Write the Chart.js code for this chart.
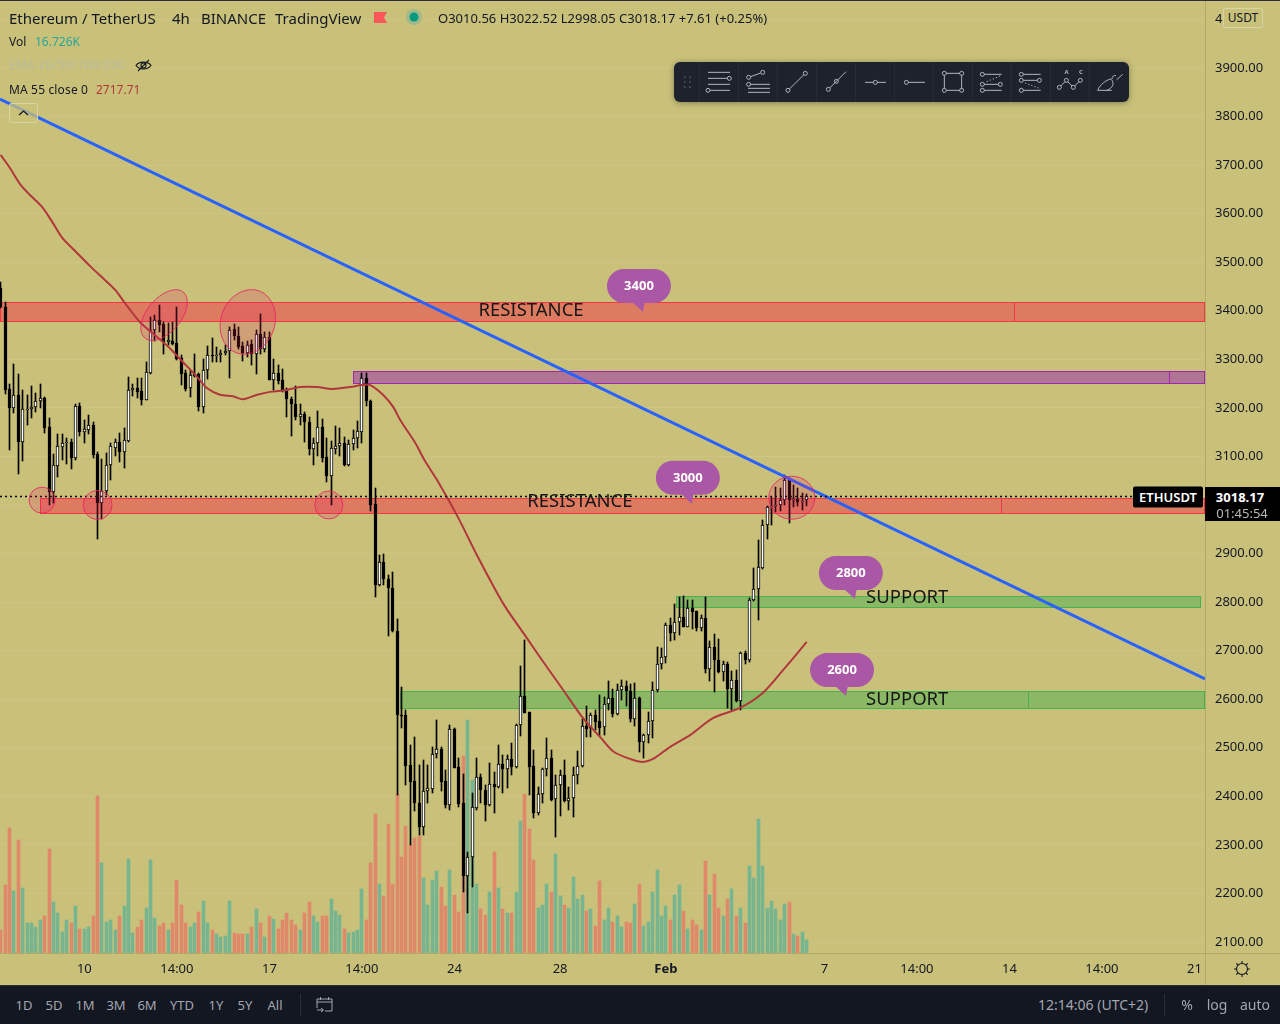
<!DOCTYPE html>
<html>
<head>
<meta charset="utf-8">
<title>ETHUSDT 4h</title>
<script src="https://cdn.jsdelivr.net/npm/chart.js@4/dist/chart.umd.min.js"></script>
<style>
html, body { margin: 0; padding: 0; background: #c9c17a; width: 1280px; height: 1024px; overflow: hidden; }
body { position: relative; font-family: "Noto Sans", sans-serif; color: #131722; }
canvas { position: absolute; left: 0; top: 0; }
.t { position: absolute; white-space: nowrap; line-height: 1; transform: translateY(-50%); }
.c { transform: translate(-50%, -50%); }
#footer { position: absolute; left: 0; top: 985px; width: 1280px; height: 39px; background: #131722; border-top: 1px solid #2a2e39; box-sizing: border-box; }
#footer .t { color: #a3a6af; font-size: 13px; top: 19px; }
</style>
</head>
<body>
<canvas id="chart" width="1280" height="985"></canvas>

<div style="position:absolute;left:0;top:0;width:1280px;height:1px;background:#2a2e39"></div>
<div style="position:absolute;left:1205px;top:953px;width:1px;height:32px;background:#b0a968"></div>
<div style="position:absolute;left:1205px;top:953px;width:75px;height:1px;background:#b0a968"></div>

<div class="t" style="left:9px;top:18px;font-size:15px">Ethereum / TetherUS</div>
<div class="t" style="left:172px;top:18px;font-size:15px">4h</div>
<div class="t" style="left:201px;top:18px;font-size:15px">BINANCE</div>
<div class="t" style="left:275px;top:18px;font-size:15px">TradingView</div>
<svg style="position:absolute;left:374px;top:11px" width="14" height="14"><path d="M0 1H13L10 6.5L13 12H0Z" fill="#f9575a"/></svg>
<svg style="position:absolute;left:404px;top:7px" width="20" height="20"><circle cx="10" cy="10" r="8" fill="#9fb98a"/><circle cx="10" cy="10" r="4.5" fill="#089981"/></svg>
<div class="t" style="left:438px;top:18px;font-size:13px">O3010.56 H3022.52 L2998.05 C3018.17 +7.61 (+0.25%)</div>
<div class="t" style="left:9px;top:42px;font-size:12px">Vol</div>
<div class="t" style="left:35px;top:42px;font-size:12px;color:#26a69a">16.726K</div>
<div class="t" style="left:9px;top:65px;font-size:12px;letter-spacing:.35px;color:#b9baa0">EMA 20/50/100/200</div>
<svg style="position:absolute;left:135px;top:57px" width="17" height="17" fill="none" stroke="#131722" stroke-width="1.1"><path d="M1 8.5C4 4 13 4 16 8.5C13 13 4 13 1 8.5Z"/><circle cx="8.5" cy="8.5" r="2.5"/><path d="M3 14L14 3"/></svg>
<div class="t" style="left:9px;top:90px;font-size:12px;letter-spacing:.15px">MA 55 close 0</div>
<div class="t" style="left:96px;top:90px;font-size:12px;color:#b2373c">2717.71</div>
<svg style="position:absolute;left:9px;top:103px" width="30" height="21" fill="none"><rect x="0.5" y="0.5" width="28" height="19" rx="2" fill="rgba(201,193,122,0.75)" stroke="#d8d4a8"/><path d="M10 12L14.5 8L19 12" stroke="#131722" stroke-width="1.2"/></svg>

<svg style="position:absolute;left:670px;top:55px;filter:drop-shadow(0 1px 3px rgba(0,0,0,.35))" width="470" height="55" viewBox="0 0 1410 165" fill="none" stroke="#b2b5be" stroke-width="3">
  <rect x="12" y="21" width="1365" height="120" rx="18" fill="#1e222d" stroke="none"/>
  <g fill="#4a4f5c" stroke="none"><circle cx="44" cy="67" r="3"/><circle cx="60" cy="67" r="3"/><circle cx="44" cy="81" r="3"/><circle cx="60" cy="81" r="3"/><circle cx="44" cy="96" r="3"/><circle cx="60" cy="96" r="3"/></g>
  <path stroke="#2a2e39" d="M88 21V141M205 21V141M322 21V141M440 21V141M557 21V141M673 21V141M790 21V141M907 21V141M1023 21V141M1141 21V141M1258 21V141"/>
  <path d="M114 52H180M114 70H172M114 88H180M120 106H180"/><circle cx="178" cy="70" r="6"/><circle cx="114" cy="106" r="6"/>
  <path d="M242 65L272 54M240 88H300M234 100H300M234 112H300"/><circle cx="278" cy="52" r="6"/><circle cx="236" cy="67" r="6"/><circle cx="236" cy="88" r="6"/>
  <path d="M358 102L402 59"/><circle cx="354" cy="106" r="6"/><circle cx="406" cy="55" r="6"/>
  <path d="M479 99L528 50"/><circle cx="475" cy="103" r="6"/><circle cx="499" cy="79" r="6"/>
  <path d="M585 82H610M622 82H648"/><circle cx="616" cy="82" r="6"/>
  <path d="M715 82H765"/><circle cx="709" cy="82" r="6"/>
  <path d="M829 55H869M829 106H869M823 61V100M875 61V100"/><circle cx="823" cy="55" r="6"/><circle cx="875" cy="55" r="6"/><circle cx="823" cy="106" r="6"/><circle cx="875" cy="106" r="6"/>
  <path d="M943 58H995M943 88H985M943 106H995"/><path d="M950 80L992 62" stroke-dasharray="4 6"/><circle cx="937" cy="58" r="6"/><circle cx="937" cy="88" r="6"/><circle cx="991" cy="88" r="6"/><circle cx="937" cy="106" r="6"/>
  <path d="M1060 58H1112M1060 76H1102M1060 106H1112"/><path d="M1065 84L1108 100" stroke-dasharray="4 6"/><circle cx="1054" cy="58" r="6"/><circle cx="1054" cy="76" r="6"/><circle cx="1108" cy="76" r="6"/><circle cx="1054" cy="106" r="6"/>
  <path d="M1172 93L1185 80M1193 80L1206 93M1214 93L1227 80"/><circle cx="1168" cy="97" r="6"/><circle cx="1189" cy="76" r="6"/><circle cx="1210" cy="97" r="6"/><circle cx="1231" cy="76" r="6"/>
  <text x="1190" y="58" font-size="18" font-weight="700" text-anchor="middle" fill="#b2b5be" stroke="none">A</text><text x="1233" y="58" font-size="18" font-weight="700" text-anchor="middle" fill="#b2b5be" stroke="none">C</text>
  <path d="M1283 106H1325M1283 106C1290 88 1308 76 1322 72C1336 84 1328 100 1310 106M1326 72C1326 64 1332 60 1338 62M1340 74L1358 58"/>
</svg>

<div class="t" style="left:1223px;top:18px;width:38px;height:18px;line-height:18px;text-align:center;font-size:12px;background:#c9c17a;border:1px solid #d8d4a8;border-radius:2px">USDT</div>
<div class="t" style="left:1133px;top:497px;width:70px;height:21px;line-height:21px;text-align:center;font-size:13px;font-weight:600;background:#000;color:#fff;border-radius:2px">ETHUSDT</div>
<div style="position:absolute;left:1205px;top:487px;width:75px;height:34px;background:#000"></div>
<div class="t c" style="left:1240px;top:497px;font-size:13px;font-weight:700;color:#fff">3018.17</div>
<div class="t c" style="left:1242px;top:513px;font-size:13px;color:#b8b8b8">01:45:54</div>

<svg style="position:absolute;left:1233px;top:960px" width="18" height="18" fill="none" stroke="#131722" stroke-width="1.1"><circle cx="9" cy="9" r="5.5"/><path d="M9 1V3.5M9 14.5V17M1 9H3.5M14.5 9H17M3.3 3.3L5 5M13 13L14.7 14.7M3.3 14.7L5 13M13 5L14.7 3.3"/></svg>

<div id="footer">
  <div class="t c" style="left:24px">1D</div>
  <div class="t c" style="left:54px">5D</div>
  <div class="t c" style="left:85px">1M</div>
  <div class="t c" style="left:116px">3M</div>
  <div class="t c" style="left:147px">6M</div>
  <div class="t c" style="left:182px">YTD</div>
  <div class="t c" style="left:216px">1Y</div>
  <div class="t c" style="left:245px">5Y</div>
  <div class="t c" style="left:275px">All</div>
  <div style="position:absolute;left:300px;top:8px;width:1px;height:22px;background:#2a2e39"></div>
  <svg style="position:absolute;left:316px;top:10px" width="18" height="18" fill="none" stroke="#a3a6af" stroke-width="1"><path d="M1 12V3H16V15H9M1 6H16M4.5 1V4M12.5 1V4M1 14H7M5 12L7.5 14L5 16"/></svg>
  <div class="t" style="left:1038px;font-size:14px">12:14:06 (UTC+2)</div>
  <div style="position:absolute;left:1164px;top:8px;width:1px;height:22px;background:#2a2e39"></div>
  <div class="t c" style="left:1187px;font-size:14px">%</div>
  <div class="t c" style="left:1217px;font-size:14px">log</div>
  <div class="t c" style="left:1255px;font-size:14px">auto</div>
</div>

<script>
// 4h candles
const opens = [3446,3407,3238,3200,3226,3130,3196,3198,3202,3215,3220,3160,3027,3081,3120,3127,3129,3097,3203,3151,3154,3164,3105,3005,3029,3082,3118,3129,3110,3132,3236,3240,3234,3217,3272,3361,3382,3372,3336,3338,3333,3302,3271,3240,3266,3269,3202,3277,3309,3307,3308,3314,3318,3362,3349,3327,3314,3331,3311,3353,3321,3347,3258,3271,3257,3236,3218,3209,3182,3187,3170,3116,3127,3160,3098,3060,3115,3122,3127,3082,3125,3139,3151,3261,3215,3002,2836,2882,2847,2830,2741,2567,2567,2464,2431,2386,2336,2412,2415,2487,2497,2431,2382,2538,2460,2386,2236,2275,2377,2439,2414,2382,2426,2419,2466,2457,2477,2460,2546,2606,2573,2463,2365,2404,2456,2478,2394,2423,2445,2390,2396,2443,2462,2544,2540,2567,2555,2542,2590,2602,2570,2618,2627,2617,2560,2602,2511,2527,2556,2619,2672,2686,2753,2736,2760,2770,2749,2787,2782,2747,2767,2662,2707,2681,2656,2672,2622,2640,2597,2695,2681,2804,2828,2871,2958,2995,2997,3001,3011,3051,3011,3012,3008,3010.56];
const closes = [3407,3237,3200,3226,3130,3197,3198,3202,3215,3220,3159,3027,3082,3121,3127,3129,3097,3203,3151,3156,3164,3104,3005,3029,3082,3121,3129,3110,3133,3236,3240,3233,3217,3273,3361,3382,3371,3336,3339,3331,3301,3270,3239,3267,3269,3202,3277,3308,3307,3309,3314,3318,3361,3349,3326,3314,3330,3311,3353,3321,3347,3258,3271,3256,3235,3219,3209,3182,3187,3170,3116,3127,3160,3097,3060,3117,3122,3127,3082,3126,3139,3152,3261,3215,3000,2836,2882,2847,2830,2741,2567,2566,2463,2430,2386,2336,2412,2417,2487,2497,2430,2382,2539,2459,2384,2236,2275,2378,2439,2413,2382,2426,2419,2466,2457,2476,2461,2546,2606,2572,2461,2365,2404,2456,2478,2393,2423,2445,2390,2396,2444,2462,2544,2539,2567,2554,2541,2590,2602,2570,2618,2627,2616,2560,2602,2511,2527,2556,2620,2672,2686,2752,2736,2760,2769,2749,2787,2780,2747,2767,2662,2707,2680,2656,2672,2622,2640,2597,2695,2681,2804,2828,2872,2958,2995,2997,3001,3011,3051,3010,3012,3007,3009,3018.17];
const highs = [3459,3419,3250,3290,3270,3237,3226,3246,3230,3250,3222,3180,3106,3146,3146,3139,3135,3209,3211,3176,3185,3170,3110,3094,3108,3128,3135,3148,3158,3263,3250,3261,3261,3295,3388,3391,3412,3377,3374,3377,3408,3309,3278,3278,3312,3272,3300,3327,3343,3326,3319,3329,3367,3373,3367,3336,3338,3340,3360,3393,3357,3357,3300,3288,3281,3240,3223,3245,3208,3192,3182,3137,3193,3178,3137,3131,3163,3158,3141,3134,3154,3172,3271,3272,3216,3034,2897,2900,2856,2861,2765,2625,2578,2506,2523,2465,2474,2465,2502,2557,2502,2454,2547,2540,2480,2446,2285,2407,2480,2447,2423,2468,2451,2506,2485,2485,2509,2548,2668,2722,2574,2496,2420,2458,2520,2496,2444,2454,2475,2420,2461,2494,2559,2586,2571,2578,2609,2605,2637,2622,2631,2640,2638,2631,2633,2605,2528,2574,2636,2708,2705,2758,2767,2796,2810,2813,2804,2804,2782,2773,2810,2719,2734,2725,2679,2677,2659,2660,2698,2700,2808,2871,2928,2969,2997,3016,3038,3036,3062,3055,3041,3034,3024,3022.52];
const lows = [3405,3229,3113,3190,3064,3091,3165,3180,3191,3199,3149,3000,3005,3058,3093,3084,3075,3093,3143,3128,3146,3096,2931,2972,3021,3051,3100,3089,3076,3130,3224,3220,3206,3216,3270,3338,3357,3311,3329,3329,3298,3247,3235,3223,3264,3194,3190,3260,3295,3295,3295,3309,3262,3340,3322,3297,3304,3288,3270,3311,3316,3257,3237,3250,3233,3182,3143,3175,3164,3129,3103,3082,3101,3088,3048,3000,3106,3100,3081,3081,3113,3117,3127,3204,2988,2811,2833,2835,2731,2739,2403,2540,2423,2300,2369,2320,2320,2387,2406,2478,2410,2375,2372,2458,2379,2203,2160,2213,2372,2386,2350,2380,2366,2417,2406,2417,2444,2458,2524,2571,2403,2355,2362,2386,2442,2391,2317,2360,2389,2372,2358,2425,2460,2522,2523,2537,2524,2526,2578,2564,2568,2598,2586,2554,2544,2492,2478,2509,2521,2614,2662,2675,2719,2721,2732,2748,2749,2744,2741,2741,2655,2638,2614,2653,2638,2581,2577,2595,2577,2673,2677,2803,2763,2869,2930,2959,2986,2988,2999,2962,2995,2997,2990,2998.05];
// volume in thousands
const volumes = [30,88,161,80,145,83,38,38,33,43,47,134,66,52,27,42,38,61,31,31,34,48,202,116,40,42,30,48,60,121,26,34,42,58,119,45,35,39,29,39,94,62,39,33,38,53,67,39,30,25,21,22,67,26,24,24,24,33,57,38,20,48,44,31,42,51,43,36,30,51,66,48,40,47,48,70,54,49,31,26,27,29,82,43,116,179,89,73,166,89,204,123,163,139,148,150,97,62,94,106,85,61,107,74,53,254,300,222,89,57,49,79,130,84,56,52,51,78,170,204,160,120,58,62,89,78,127,73,62,58,98,69,74,54,56,35,93,43,58,40,48,33,40,39,63,89,35,40,79,107,48,61,42,74,88,54,31,43,36,29,118,74,101,58,48,69,82,48,58,38,112,97,172,112,58,67,57,43,63,66,25,22,27,16.7];

// MA 55 sampled along the curve
const maBars = [0,2.1,4.4,6.7,9.4,11.7,14,16.9,20.3,23.7,26,28.2,31.6,35.5,38.4,41.4,44.6,46.8,49.8,52.7,55,58.2,61.1,65,68,71.8,75.4,79.3,82,83.9,86.8,89.1,90.7,94.1,96.3,99.1,103.8,108.1,112.7,115,119,122.4,127.7,132.2,136.1,139,142.9,145.8,148.1,152,156.5,161.7,167.8,173,177.6,183];
const maValues = [3721,3694,3661,3638,3614,3583,3550,3523,3492,3463,3443,3416,3377,3346,3323,3294,3264,3241,3227,3224,3218,3227,3233,3237,3243,3243,3239,3243,3247,3247,3227,3202,3175,3128,3091,3051,2975,2897,2819,2784,2732,2687,2619,2561,2522,2493,2477,2471,2477,2502,2526,2561,2582,2613,2660,2718];

const trendBars = [-0.15, 273.4];
const trendValues = [3836, 2642];
const lastPrice = 3018.17;

// x axis
const xTickBars = [19,40,61,82,103,127,151,187,208,229,250,271];
const xTickLabels = ["10","14:00","17","14:00","24","28","Feb","7","14:00","14","14:00","21"];
const yTicks = [2100,2200,2300,2400,2500,2600,2700,2800,2900,3000,3100,3200,3300,3400,3500,3600,3700,3800,3900,4000];

// drawn zones
const zoneStart = [-0.15, 80, 8.9, 153.3, 90.7];
const zoneEnd = [273.2, 273.2, 273.2, 272.3, 273.2];
const zoneLow = [3379, 3251, 2984, 2790, 2582];
const zoneHigh = [3418, 3276, 3014, 2813, 2617];
const zoneSplit = [230, 265.2, 227.1, null, 233.2];
const zoneKind = ["red", "purple", "red", "green", "green"];

const noteBars = [120.4, 131.5, 205.8, 205.8];
const notePrices = [3401, 3007, 2809, 2599];
const noteTexts = ["RESISTANCE", "RESISTANCE", "SUPPORT", "SUPPORT"];

const bubbleBars = [144.9, 156, 193, 191];
const bubblePrices = [3451, 3056, 2860, 2660];
const bubbleTexts = ["3400", "3000", "2800", "2600"];

const ringBars = [37.1, 56.1, 9.4, 22, 74.5, 179.6];
const ringPrices = [3391, 3377, 3010, 3000, 3000, 3015];
const ringRx = [30, 33, 13, 14.5, 14, 23];
const ringRy = [17, 27, 13, 14.5, 14, 21.5];
const ringTilt = [-50, -70, 0, 0, 0, 0];

const zoneColors = {
    red: ["rgba(242,54,69,0.5)", "#f23645"],
    purple: ["rgba(156,39,176,0.5)", "#9c27b0"],
    green: ["rgba(76,175,80,0.5)", "#4caf50"]
};

const bars = opens.map((o, i) => i);
const isUp = opens.map((o, i) => closes[i] >= o);

// snap the bars to whole pixels, the same way the reference is drawn
const snapPlugin = {
    id: "snap",
    afterDatasetsUpdate(chart) {
        chart.data.datasets.forEach((ds, d) => {
            if (ds.type !== "bar") return;
            chart.getDatasetMeta(d).data.forEach(el => {
                el.x = Math.floor(el.x) + 0.5;
                el.y = Math.round(el.y);
                el.base = Math.round(el.base);
                if (el.y === el.base) el.base = el.y + 1;
            });
        });
    }
};

const zonePlugin = {
    id: "zones",
    beforeDatasetsDraw(chart) {
        const { ctx, scales: { x, y } } = chart;
        ctx.save();
        zoneStart.forEach((s, i) => {
            const left = Math.round(x.getPixelForValue(s)) + 0.5;
            const right = Math.round(x.getPixelForValue(zoneEnd[i])) + 0.5;
            const top = Math.round(y.getPixelForValue(zoneHigh[i])) + 0.5;
            const bottom = Math.round(y.getPixelForValue(zoneLow[i])) + 0.5;
            const colors = zoneColors[zoneKind[i]];
            ctx.fillStyle = colors[0];
            ctx.strokeStyle = colors[1];
            ctx.lineWidth = 1;
            ctx.fillRect(left, top, right - left, bottom - top);
            ctx.strokeRect(left, top, right - left, bottom - top);
            if (zoneSplit[i] !== null) {
                const sx = Math.round(x.getPixelForValue(zoneSplit[i])) + 0.5;
                ctx.beginPath();
                ctx.moveTo(sx, top);
                ctx.lineTo(sx, bottom);
                ctx.stroke();
            }
        });
        ctx.restore();
    }
};

const notePlugin = {
    id: "notes",
    afterDatasetsDraw(chart) {
        const { ctx, scales: { x, y } } = chart;
        ctx.save();

        // last price line
        const ly = Math.round(y.getPixelForValue(lastPrice)) + 0.5;
        ctx.strokeStyle = "#000";
        ctx.lineWidth = 1.5;
        ctx.setLineDash([2, 3]);
        ctx.beginPath();
        ctx.moveTo(0, ly);
        ctx.lineTo(1133, ly);
        ctx.stroke();
        ctx.setLineDash([]);

        ringBars.forEach((b, i) => {
            ctx.beginPath();
            ctx.ellipse(x.getPixelForValue(b), y.getPixelForValue(ringPrices[i]), ringRx[i], ringRy[i], ringTilt[i] * Math.PI / 180, 0, Math.PI * 2);
            ctx.fillStyle = "rgba(233,30,99,0.2)";
            ctx.fill();
            ctx.strokeStyle = "rgba(233,30,99,0.8)";
            ctx.lineWidth = 1;
            ctx.stroke();
        });

        ctx.textAlign = "center";
        ctx.textBaseline = "middle";
        ctx.fillStyle = "#161616";
        ctx.font = "18.5px 'Noto Sans'";
        noteTexts.forEach((t, i) => {
            ctx.fillText(t, x.getPixelForValue(noteBars[i]), y.getPixelForValue(notePrices[i]));
        });

        bubbleTexts.forEach((t, i) => {
            const cx = x.getPixelForValue(bubbleBars[i]);
            const cy = y.getPixelForValue(bubblePrices[i]);
            ctx.fillStyle = "#aa58a5";
            ctx.beginPath();
            ctx.roundRect(cx - 32, cy - 17, 64, 34, 17);
            ctx.fill();
            ctx.beginPath();
            ctx.moveTo(cx - 8, cy + 15);
            ctx.lineTo(cx + 4, cy + 26);
            ctx.lineTo(cx + 6, cy + 15);
            ctx.fill();
            ctx.fillStyle = "#fff";
            ctx.font = "700 13px 'Noto Sans'";
            ctx.fillText(t, cx, cy);
        });
        ctx.restore();
    }
};

new Chart(document.getElementById("chart"), {
    data: {
        datasets: [
            {
                type: "bar",
                order: 5,
                yAxisID: "yVol",
                grouped: false,
                barThickness: 3,
                backgroundColor: isUp.map(u => u ? "#76b58f" : "#e0896a"),
                data: bars.map(i => ({ x: i, y: volumes[i] }))
            },
            {
                type: "bar",
                order: 4,
                yAxisID: "y",
                grouped: false,
                barThickness: 1,
                backgroundColor: "#000",
                data: bars.map(i => ({ x: i, y: [lows[i], highs[i]] }))
            },
            {
                type: "bar",
                order: 3,
                yAxisID: "y",
                grouped: false,
                barThickness: 3,
                borderWidth: 1,
                borderSkipped: false,
                borderColor: "#000",
                backgroundColor: isUp.map(u => u ? "#fff" : "#000"),
                data: bars.map(i => ({ x: i, y: [opens[i], closes[i]] }))
            },
            {
                type: "line",
                order: 2,
                yAxisID: "y",
                borderColor: "#b2373c",
                borderWidth: 2,
                pointRadius: 0,
                tension: 0.3,
                data: maBars.map((b, i) => ({ x: b, y: maValues[i] }))
            },
            {
                type: "line",
                order: 1,
                yAxisID: "y",
                borderColor: "#2962ff",
                borderWidth: 3,
                pointRadius: 0,
                data: trendBars.map((b, i) => ({ x: b, y: trendValues[i] }))
            }
        ]
    },
    options: {
        responsive: false,
        animation: false,
        devicePixelRatio: 1,
        layout: { padding: 0 },
        plugins: { legend: { display: false }, tooltip: { enabled: false } },
        scales: {
            x: {
                type: "linear",
                offset: false,
                min: -0.152,
                max: 273.4,
                afterBuildTicks: axis => { axis.ticks = xTickBars.map(v => ({ value: v })); },
                afterFit: axis => {
                    axis.height = 32;
                    axis.paddingLeft = 0;
                    axis.paddingRight = 0;
                },
                grid: { display: false },
                border: { color: "#b0a968" },
                ticks: {
                    autoSkip: false,
                    maxRotation: 0,
                    padding: 0,
                    color: "#131722",
                    font: ctx => ({
                        family: "Noto Sans",
                        size: 13,
                        weight: ctx.tick && xTickLabels[xTickBars.indexOf(ctx.tick.value)] === "Feb" ? "700" : "400"
                    }),
                    callback: value => xTickLabels[xTickBars.indexOf(value)]
                }
            },
            y: {
                position: "right",
                min: 2077.4,
                max: 4040,
                afterBuildTicks: axis => { axis.ticks = yTicks.map(v => ({ value: v })); },
                afterFit: axis => {
                    axis.width = 75;
                    axis.paddingTop = 0;
                    axis.paddingBottom = 0;
                },
                grid: { color: "rgba(255,255,255,0.07)", drawTicks: false },
                border: { color: "#b0a968" },
                ticks: {
                    padding: 10,
                    color: "#131722",
                    font: { family: "Noto Sans", size: 13 },
                    callback: value => value.toFixed(2)
                }
            },
            yVol: {
                display: false,
                min: 0,
                max: 1226
            }
        }
    },
    plugins: [snapPlugin, zonePlugin, notePlugin]
});
</script>
</body>
</html>
